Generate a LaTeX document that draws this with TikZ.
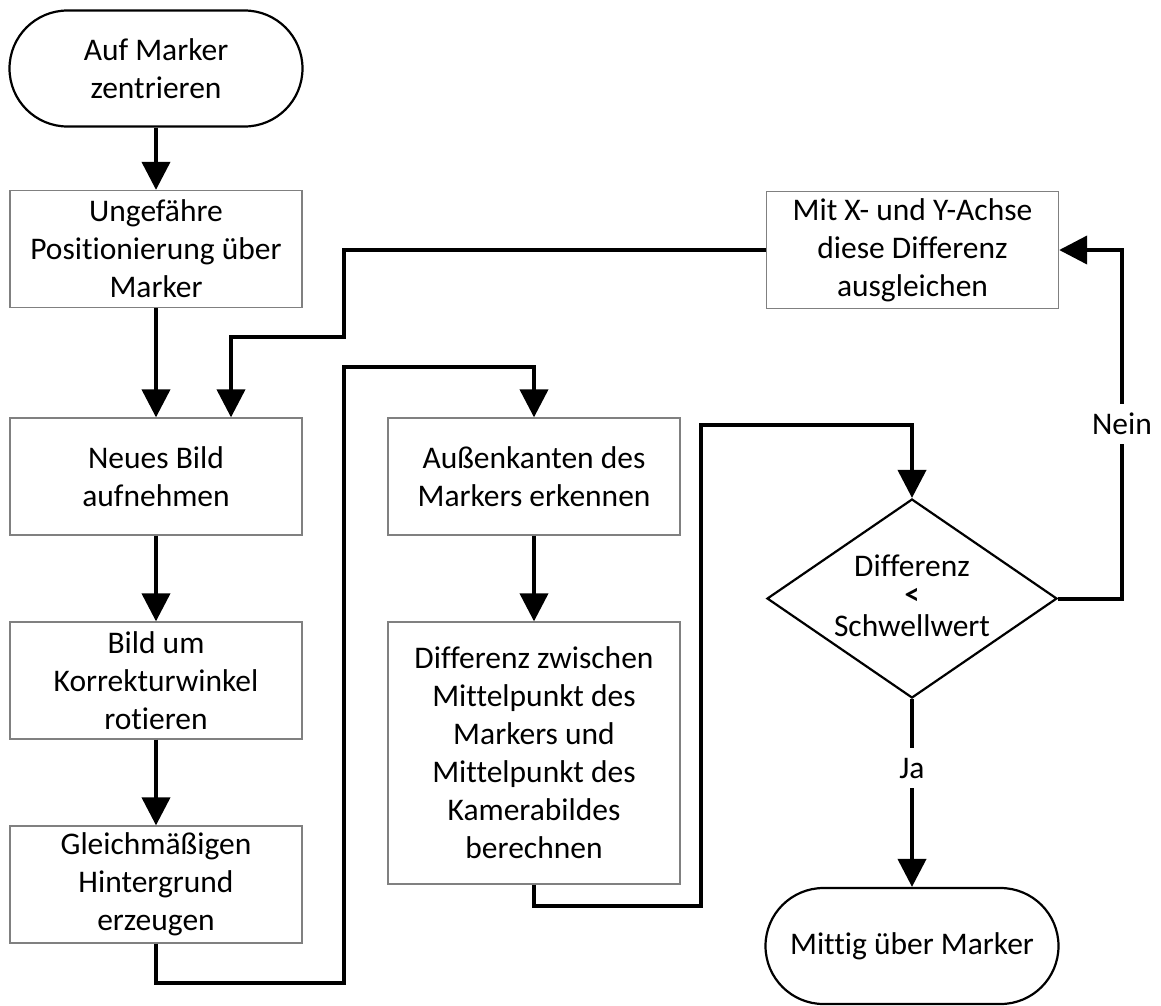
\documentclass[tikz,border=0pt]{standalone}
\usepackage{fontspec}
\setmainfont{Carlito}[Ligatures=NoCommon]
\usetikzlibrary{arrows.meta,shapes.geometric}
\definecolor{boxgray}{RGB}{128,128,128}

\begin{document}
\begin{tikzpicture}[x=1pt,y=-1pt,
  every node/.style={font=\fontsize{31.5}{38}\selectfont, align=center, inner sep=0pt},
  procbox/.style={draw=boxgray, line width=1.3pt, minimum width=292pt, minimum height=117pt},
  terminal/.style={draw=black, line width=2.2pt, rectangle, rounded corners=58pt,
                   minimum width=293pt, minimum height=116pt},
  decision/.style={draw=black, line width=2.2pt, diamond, minimum width=290pt, minimum height=199pt},
  flow/.style={line width=4pt, -{Triangle[length=28pt,width=28pt]}},
  lbl/.style={fill=white, inner sep=3pt, minimum height=40pt}
]
\useasboundingbox (0,0) rectangle (1161,1005);

% left column
\node[terminal] (start) at (156,68.5) {Auf Marker\\zentrieren};
\node[procbox] (pos)   at (156,249)   {Ungefähre\\Positionierung über\\Marker};
\node[procbox] (bild)  at (156,476.5) {Neues Bild\\aufnehmen};
\node[procbox] (rot)   at (156,680.5) {Bild um\\Korrekturwinkel\\rotieren};
\node[procbox] (hint)  at (156,884.5) {Gleichmäßigen\\Hintergrund\\erzeugen};

% middle column
\node[procbox] (kant)  at (534,476.5) {Außenkanten des\\Markers erkennen};
\node[procbox, minimum height=262pt] (diff) at (534,753)
  {Differenz zwischen\\Mittelpunkt des\\Markers und\\Mittelpunkt des\\Kamerabildes\\berechnen};

% right column: decision with its three text lines set separately
\node[procbox] (ausg)  at (912.5,250) {Mit X- und Y-Achse\\diese Differenz\\ausgleichen};
\node[decision] (dec)  at (912,598.5) {};
\node[anchor=base] (dectop) at (912,576) {Differenz};
\node[font=\fontsize{30}{30}\bfseries\selectfont] (declt) at (912,596) {<};
\node[anchor=base] (decbot) at (912,636) {Schwellwert};
\node[terminal] (ende) at (912,946) {Mittig über Marker};

% connectors
\draw[flow] (start) -- (pos);
\draw[flow] (pos) -- (bild);
\draw[flow] (ausg.west) -| (344,337) -| ([xshift=75pt]bild.north);
\draw[flow] (bild) -- (rot);
\draw[flow] (rot) -- (hint);
\draw[flow] (hint.south) |- (344,983) -- (344,367) -| (kant.north);
\draw[flow] (kant) -- (diff);
\draw[flow] (diff.south) |- (701,906) -- (701,425) -| (dec.north);
\draw[flow] (dec.east) -| (1122,250) -- (ausg.east);
\draw[flow] (dec.south) -- (ende.north);

% branch labels
\node[lbl] (nein) at (1122,424) {Nein};
\node[lbl] (ja)   at (912,768)  {Ja};
\end{tikzpicture}
\end{document}
